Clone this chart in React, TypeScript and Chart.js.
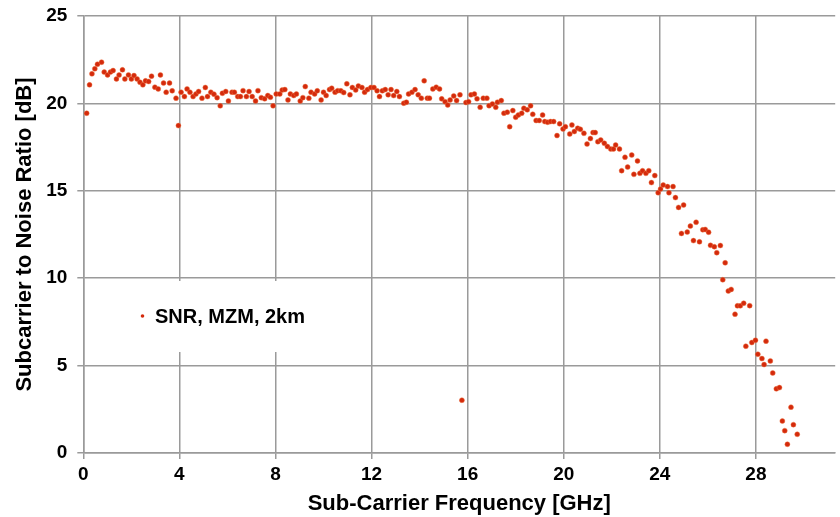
import { useEffect, useRef } from "react";
import { Chart, registerables } from "chart.js";

Chart.register(...registerables);

// Sub-carrier frequency [GHz]
const freqGHz = [
  0.14, 0.26, 0.36, 0.48, 0.59, 0.76, 0.87, 1.01, 1.13, 1.24, 1.38, 1.49, 1.63, 1.73, 1.88, 2.0,
  2.11, 2.24, 2.36, 2.48, 2.59, 2.72, 2.84, 2.98, 3.12, 3.21, 3.34, 3.45, 3.59, 3.7, 3.86, 3.96,
  4.07, 4.21, 4.32, 4.44, 4.57, 4.69, 4.8, 4.94, 5.08, 5.17, 5.31, 5.44, 5.57, 5.7, 5.79, 5.93,
  6.04, 6.19, 6.29, 6.43, 6.54, 6.65, 6.79, 6.9, 7.03, 7.17, 7.27,
  7.41, 7.55, 7.68, 7.79, 7.9, 8.03, 8.18, 8.28, 8.39, 8.52, 8.62, 8.76, 8.87, 9.03, 9.14, 9.24,
  9.39, 9.48, 9.63, 9.74, 9.9, 10.0, 10.11, 10.25, 10.34, 10.48, 10.59, 10.72, 10.84, 10.97, 11.1,
  11.2, 11.34, 11.45, 11.6, 11.71, 11.83, 11.97, 12.1, 12.23, 12.33, 12.45, 12.57, 12.69, 12.81,
  12.92, 13.05, 13.16, 13.34, 13.45, 13.54, 13.68, 13.81, 13.94, 14.07, 14.19, 14.32,
  14.41, 14.55, 14.69, 14.83, 14.92, 15.06, 15.17, 15.27, 15.42, 15.54, 15.68, 15.76, 15.93, 16.04,
  16.14, 16.28, 16.39, 16.52, 16.65, 16.8, 16.89, 17.03, 17.17, 17.24, 17.4, 17.51, 17.65, 17.75,
  17.88, 18.0, 18.11, 18.25, 18.34, 18.48, 18.62, 18.71, 18.85, 18.98, 19.12, 19.21, 19.33, 19.45,
  19.58, 19.72, 19.83, 19.97, 20.07, 20.25, 20.34, 20.44, 20.58, 20.69, 20.84, 20.97, 21.11, 21.22,
  21.31, 21.42, 21.54, 21.69,
  21.82, 21.96, 22.07, 22.16, 22.32, 22.41, 22.55, 22.66, 22.83, 22.92, 23.07, 23.17, 23.28, 23.42,
  23.54, 23.65, 23.79, 23.93, 24.03, 24.14, 24.32, 24.38, 24.55, 24.65, 24.78, 24.9, 24.99, 25.14,
  25.27, 25.4, 25.51, 25.65, 25.79, 25.89, 26.03, 26.11, 26.27, 26.37, 26.52, 26.62, 26.72, 26.85,
  26.97, 27.13, 27.23, 27.35, 27.49, 27.58, 27.74, 27.83, 27.98, 28.08, 28.25, 28.34, 28.42, 28.6,
  28.7, 28.85, 28.98, 29.1, 29.2, 29.31, 29.46, 29.56, 29.72,
];

// Subcarrier to noise ratio [dB]
const snrDb = [
  19.44, 21.06, 21.69, 21.98, 22.24, 22.36, 21.79, 21.63, 21.79, 21.88, 21.4, 21.63, 21.92, 21.4, 21.63, 21.4,
  21.59, 21.4, 21.21, 21.06, 21.29, 21.25, 21.56, 20.93, 20.83, 21.63, 21.16, 20.64, 21.16, 20.72, 20.3, 18.73,
  20.64, 20.39, 20.83, 20.64, 20.39, 20.54, 20.68, 20.3, 20.91, 20.39, 20.64, 20.53, 20.33, 19.86, 20.58, 20.68,
  20.14, 20.64, 20.64, 20.39, 20.39, 20.73, 20.39, 20.68, 20.39, 20.14, 20.73,
  20.33, 20.26, 20.45, 20.35, 19.86, 20.54, 20.54, 20.77, 20.79, 20.2, 20.54, 20.45, 20.54, 20.14, 20.33, 20.96,
  20.3, 20.64, 20.54, 20.72, 20.2, 20.64, 20.45, 20.79, 20.87, 20.64, 20.73, 20.72, 20.62, 21.12, 20.49,
  20.91, 20.77, 21.0, 20.91, 20.64, 20.79, 20.91, 20.91, 20.72, 20.39, 20.72, 20.79, 20.49, 20.79,
  20.45, 20.68, 20.39, 20.01, 20.07, 20.54, 20.64, 20.79, 20.49, 20.3, 21.29, 20.3,
  20.3, 20.83, 20.93, 20.83, 20.26, 20.1, 19.91, 20.2, 20.43, 20.16, 20.49, 3.02, 20.05, 20.1,
  20.49, 20.54, 20.26, 19.78, 20.3, 20.3, 19.87, 19.97, 19.78, 20.07, 20.16, 19.44, 19.5, 18.67,
  19.59, 19.21, 19.34, 19.44, 19.72, 19.63, 19.86, 19.38, 19.02, 19.02, 19.34, 18.96, 18.92, 18.96,
  18.96, 18.16, 18.83, 18.54, 18.67, 18.25, 18.77, 18.39, 18.58, 18.52, 18.29, 17.68, 17.99, 18.33,
  18.33, 17.81, 17.91, 17.72,
  17.53, 17.39, 17.39, 17.62, 17.39, 16.15, 16.92, 16.36, 17.05, 15.94, 16.71, 16.0, 16.15, 16.0,
  16.15, 15.47, 15.87, 14.89, 15.1, 15.33, 15.24, 14.89, 15.24, 14.61, 14.05, 12.56, 14.19, 12.64,
  12.98, 12.15, 13.2, 12.08, 12.77, 12.79, 12.63, 11.88, 11.8, 11.46, 11.87, 9.91, 10.88, 9.27,
  9.36, 7.94, 8.42, 8.42, 8.57, 6.11, 8.43, 6.32, 6.45, 5.65, 5.4, 5.06, 6.4, 5.27,
  4.58, 3.67, 3.74, 1.83, 1.28, 0.5, 2.62, 1.62, 1.07,
];

const xTickValues = [0, 4, 8, 12, 16, 20, 24, 28];
const yTickValues = [0, 5, 10, 15, 20, 25];
const seriesLabel = "SNR, MZM, 2km";
const xTitle = "Sub-Carrier Frequency [GHz]";
const yTitle = "Subcarrier to Noise Ratio [dB]";

const FONT = "'Liberation Sans', Arial, sans-serif";
const GRID = "#9a9a9a";
const DOT = "#d42a0c";

export default function App() {
  const canvasRef = useRef<HTMLCanvasElement>(null);

  useEffect(() => {
    document.body.style.margin = "0";
    const canvas = canvasRef.current;
    if (!canvas) return;

    const legendBox = {
      id: "legendBox",
      afterDraw(chart: any) {
        const ctx = chart.ctx;
        ctx.save();
        ctx.fillStyle = "#ffffff";
        ctx.fillRect(118, 281, 214, 71);
        ctx.fillStyle = DOT;
        ctx.beginPath();
        ctx.arc(142.5, 316, 1.8, 0, Math.PI * 2);
        ctx.fill();
        ctx.fillStyle = "#000";
        ctx.font = `bold 20px ${FONT}`;
        ctx.textBaseline = "middle";
        ctx.textAlign = "left";
        ctx.fillText(seriesLabel, 155, 317);
        ctx.restore();
      },
    };

    const chart = new Chart(canvas, {
      type: "scatter",
      data: {
        datasets: [
          {
            label: seriesLabel,
            data: freqGHz.map((f, i) => ({ x: f, y: snrDb[i] })),
            showLine: false,
            pointRadius: 2.5,
            pointBackgroundColor: DOT,
            pointBorderColor: "rgba(240,120,70,0.55)",
            pointBorderWidth: 0.8,
          },
        ],
      },
      options: {
        animation: false,
        responsive: false,
        maintainAspectRatio: false,
        devicePixelRatio: 1,
        layout: { padding: { top: 16, right: 0, left: 0, bottom: 0 } },
        plugins: {
          legend: { display: false },
          tooltip: { enabled: false },
        },
        scales: {
          x: {
            type: "linear",
            min: 0,
            max: 31.3,
            afterBuildTicks: (s: any) => {
              s.ticks = xTickValues.map((v) => ({ value: v }));
            },
            afterFit: (s: any) => {
              s.height = 64;
              s.paddingLeft = 0;
              s.paddingRight = 0;
            },
            ticks: {
              color: "#000",
              font: { family: FONT, weight: "bold", size: 19 },
              padding: 4,
              maxRotation: 0,
              autoSkip: false,
            },
            grid: { color: GRID, lineWidth: 1.5, tickLength: 6 },
            border: { color: GRID, width: 1.5 },
            title: {
              display: true,
              text: xTitle,
              color: "#000",
              font: { family: FONT, weight: "bold", size: 22 },
              padding: { top: 0, bottom: 0 },
            },
          },
          y: {
            type: "linear",
            min: 0,
            max: 25,
            afterBuildTicks: (s: any) => {
              s.ticks = yTickValues.map((v) => ({ value: v }));
            },
            afterFit: (s: any) => {
              s.width = 83.3;
              s.paddingTop = 0;
              s.paddingBottom = 0;
            },
            ticks: {
              color: "#000",
              font: { family: FONT, weight: "bold", size: 19 },
              padding: 10,
            },
            grid: { color: GRID, lineWidth: 1.5, tickLength: 6 },
            border: { color: GRID, width: 1.5 },
            title: {
              display: true,
              text: yTitle,
              color: "#000",
              font: { family: FONT, weight: "bold", size: 22 },
              padding: { top: 12, bottom: 0 },
            },
          },
        },
      },
      plugins: [legendBox],
    });

    return () => chart.destroy();
  }, []);

  return (
    <div style={{ width: 840, height: 517, background: "#fff" }}>
      <canvas ref={canvasRef} width={840} height={517} style={{ display: "block" }} />
    </div>
  );
}
